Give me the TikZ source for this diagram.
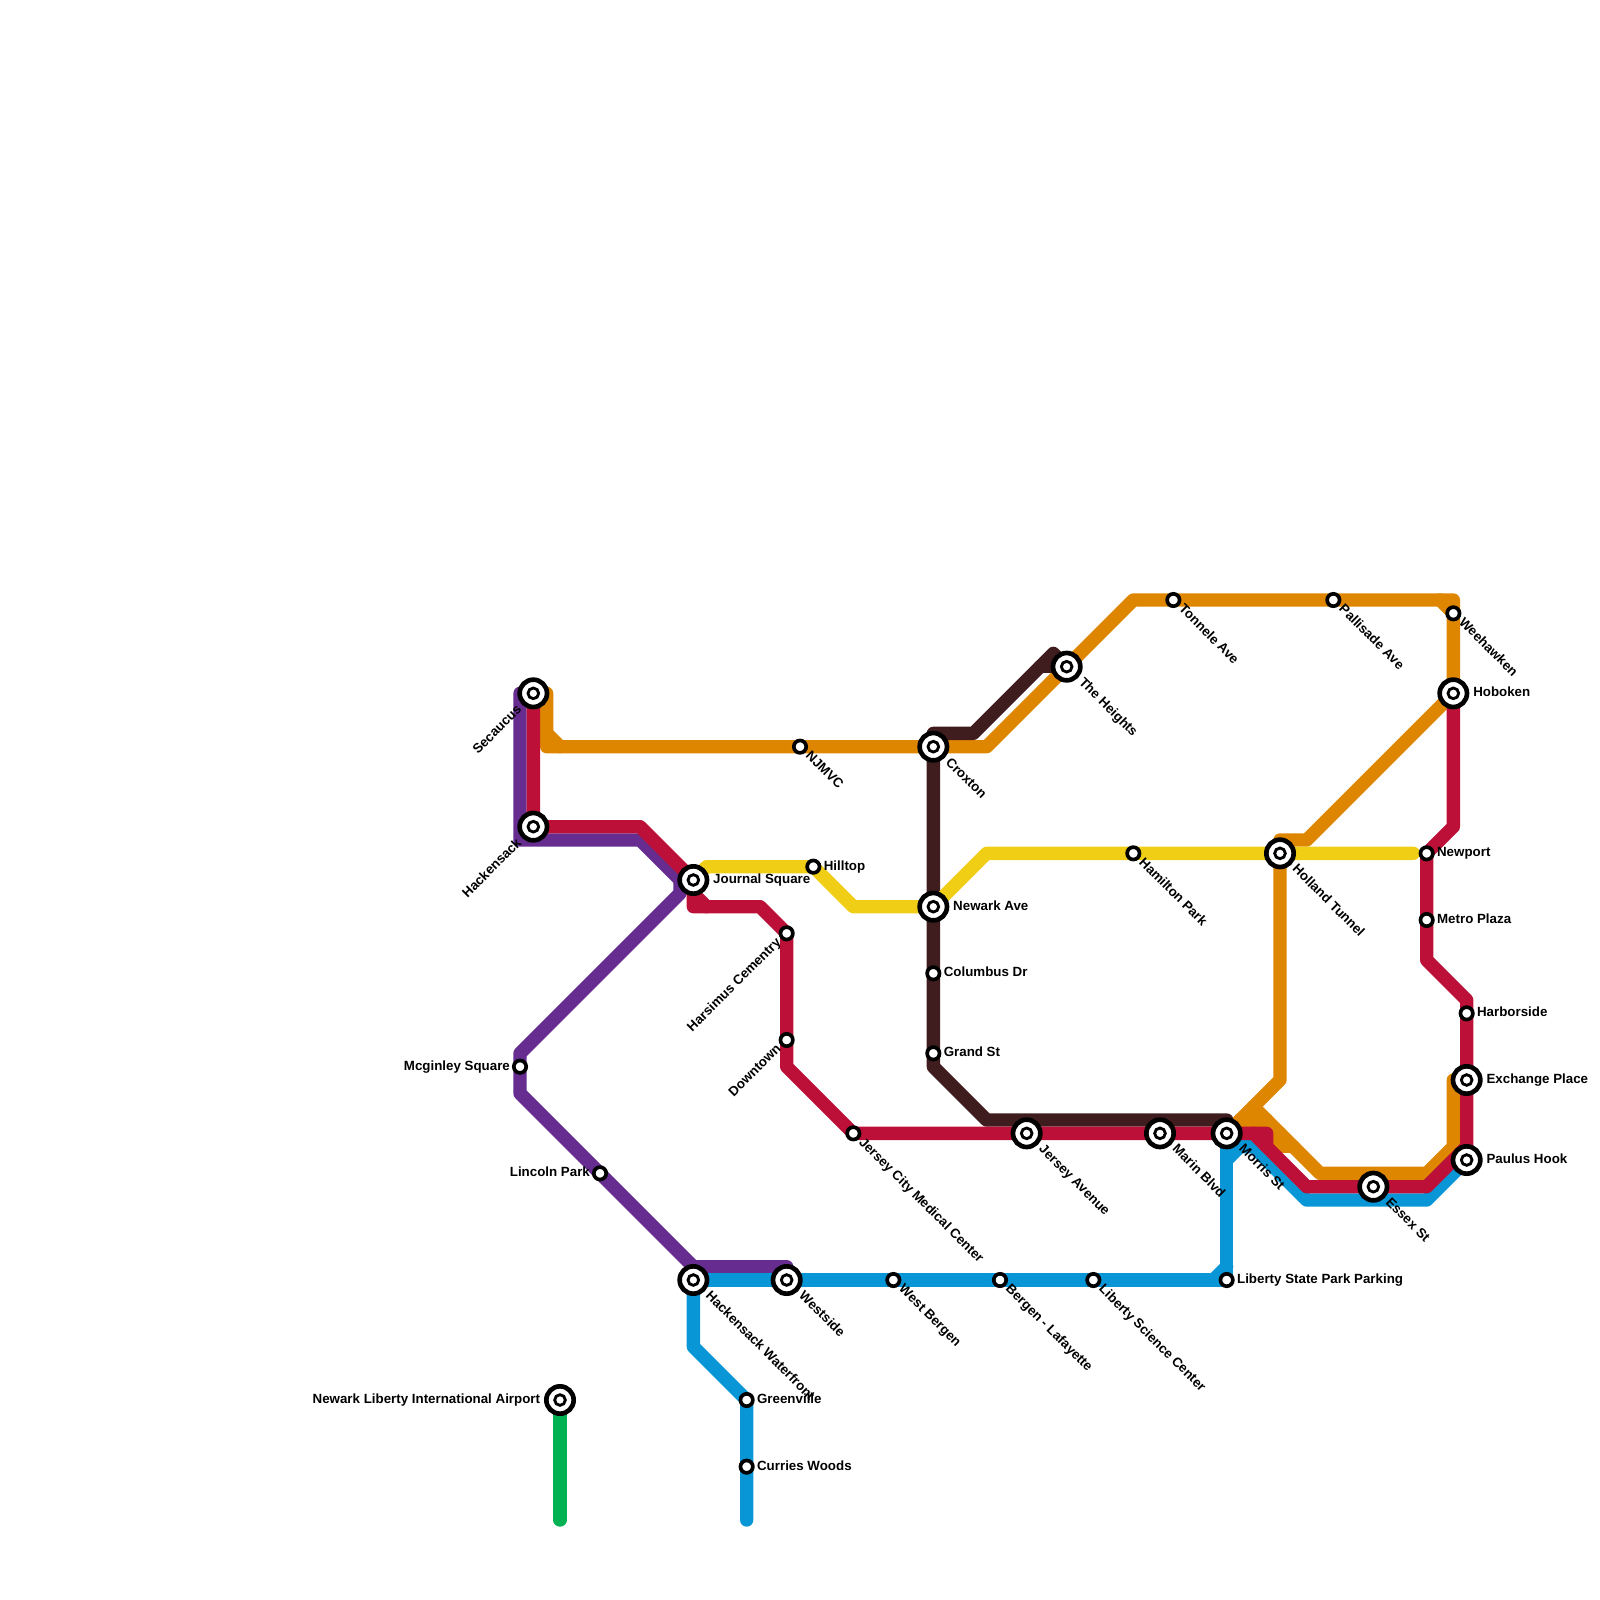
\documentclass[tikz,border=0pt]{standalone}
\usepackage{fontspec}
\setmainfont{Liberation Sans}
\usepackage{xcolor}
\usepackage{tikz}
\usetikzlibrary{positioning, backgrounds}

\definecolor{linered}{HTML}{BD1038}
\definecolor{lineorange}{HTML}{DF8600}
\definecolor{linepurple}{HTML}{662C90}
\definecolor{lineyellow}{HTML}{F0CE15}
\definecolor{lineblue}{HTML}{0896D7}
\definecolor{linegreen}{HTML}{00B251}
\definecolor{linebrown}{HTML}{3F1D1F}

\begin{document}
\begin{tikzpicture}[
    x=0.4cm, y=-0.4cm,
    hub/.style={draw=black, circle, line width=0.14cm, fill=white, minimum size=0.82cm,
                inner sep=0pt, outer sep=0pt,
                path picture={\draw[line width=0.085cm] (path picture bounding box.center) circle (0.16cm);}},
    stn/.style={draw=black, circle, line width=0.11cm, fill=white, minimum size=0.372cm,
                inner sep=0pt, outer sep=0pt},
    lbl/.style={font=\fontsize{11.38}{13}\selectfont\bfseries, color=black, inner sep=0pt,
                text height=0.285cm, text depth=0.084cm},
    lbldown/.style={lbl, rotate=-45, anchor=west},
    lblup/.style={lbl, rotate=45, anchor=east},
    rail/.style={line width=0.4cm, line cap=round, line join=round},
    redrail/.style={rail, color=linered},
    orangerail/.style={rail, color=lineorange},
    purplerail/.style={rail, color=linepurple},
    yellowrail/.style={rail, color=lineyellow},
    bluerail/.style={rail, color=lineblue},
    greenrail/.style={rail, color=linegreen},
    brownrail/.style={rail, color=linebrown}
]
\useasboundingbox (0,0) rectangle (120,120);

% =========================================================
% INTERCHANGES
% =========================================================
\node[hub] (secaucus) at (40,52) {};
\node[hub] (hackensack) at (40,62) {};
\node[hub] (journal) at (52,66) {};
\node[hub] (croxton) at (70,56) {};
\node[hub] (newark) at (70,68) {};
\node[hub] (heights) at (80,50) {};
\node[hub] (jerseyave) at (77,85) {};
\node[hub] (marin) at (87,85) {};
\node[hub] (morris) at (92,85) {};
\node[hub] (holland) at (96,64) {};
\node[hub] (hoboken) at (109,52) {};
\node[hub] (exchange) at (110,81) {};
\node[hub] (paulus) at (110,87) {};
\node[hub] (essex) at (103,89) {};
\node[hub] (waterfront) at (52,96) {};
\node[hub] (westside) at (59,96) {};
\node[hub] (airport) at (42,105) {};

% =========================================================
% STATIONS
% =========================================================
\node[stn] (njmvc) at (60,56) {};
\node[stn] (hilltop) at (61,65) {};
\node[stn] (harsimus) at (59,70) {};
\node[stn] (downtown) at (59,78) {};
\node[stn] (columbus) at (70,73) {};
\node[stn] (grand) at (70,79) {};
\node[stn] (medical) at (64,85) {};
\node[stn] (tonnele) at (88,45) {};
\node[stn] (palisade) at (100,45) {};
\node[stn] (weehawken) at (109,46) {};
\node[stn] (hamilton) at (85,64) {};
\node[stn] (newport) at (107,64) {};
\node[stn] (metro) at (107,69) {};
\node[stn] (harborside) at (110,76) {};
\node[stn] (mcginley) at (39,80) {};
\node[stn] (lincoln) at (45,88) {};
\node[stn] (westbergen) at (67,96) {};
\node[stn] (lafayette) at (75,96) {};
\node[stn] (science) at (82,96) {};
\node[stn] (parking) at (92,96) {};
\node[stn] (greenville) at (56,105) {};
\node[stn] (curries) at (56,110) {};

% line ends
\coordinate (bluetail) at (56,114);
\coordinate (greentail) at (42,114);

% =========================================================
% LINES
% =========================================================
\begin{pgfonlayer}{background}
% purple
\draw[purplerail] (secaucus.center) -- ++(-1,0) -- ++(0,11) -- ++(9,0) -- ++(3,3) -- ++(0,1)
    -- ++(-12,12) -- (mcginley.center) -- ++(0,2) -- (lincoln.center) -- ++(7,7) -- ++(7,0)
    -- (westside.center);
\draw[purplerail] (journal.center) -- ++(-1,0);

% orange
\draw[orangerail] (secaucus.center) -- ++(1,0) -- ++(0,4) -- (njmvc.center) -- (croxton.center)
    -- ++(4,0) -- (heights.center) -- ++(5,-5) -- (tonnele.center) -- (palisade.center)
    -- ++(9,0) -- (weehawken.center) -- (hoboken.center) -- ++(-11,11) -- ++(-2,0)
    -- (holland.center) -- ++(0,17) -- (morris.center);
\draw[orangerail] ([shift={(1,3)}]secaucus.center) -- ++(1,1);
\draw[orangerail] (weehawken.center) -- ++(-1,-1);
\draw[orangerail] ([shift={(2,-2)}]morris.center) -- ++(5,5) -- ++(8,0) -- ++(2,-2) -- ++(0,-5)
    -- (exchange.center);
\draw[orangerail] ([shift={(1,-1)}]morris.center) -- ++(2,0);
\draw[orangerail] ([shift={(3,0)}]morris.center) -- ++(1,0);
\draw[orangerail] ([shift={(3,1)}]morris.center) -- ++(2,0);

% brown
\draw[brownrail] (heights.center) -- ++(-2,0);
\draw[brownrail] (heights.center) -- ++(-1,-1) -- ++(-6,6) -- ++(-3,0) -- (croxton.center)
    -- (newark.center) -- (columbus.center) -- (grand.center) -- ++(0,1) -- ++(4,4)
    -- ++(18,0) -- (morris.center);

% blue
\draw[bluerail] (waterfront.center) -- (westside.center) -- (westbergen.center) -- (lafayette.center)
    -- (science.center) -- (parking.center) -- (morris.center);
\draw[bluerail] (parking.center) ++(-1,0) -- ++(1,-1);
\draw[bluerail] ([shift={(0,2)}]morris.center) -- ++(1,-1) -- ++(1,0) -- ++(4,4) -- ++(9,0)
    -- (paulus.center);
\draw[bluerail] (waterfront.center) -- ++(0,5) -- (greenville.center) -- (curries.center) -- (bluetail);

% yellow
\draw[yellowrail] (journal.center) -- ++(1,-1) -- (hilltop.center) -- ++(3,3) -- (newark.center)
    -- ++(4,-4) -- (hamilton.center) -- (holland.center) -- ++(10,0);

% green
\draw[greenrail] (airport.center) -- (greentail);

% red
\draw[redrail] (secaucus.center) -- (hackensack.center) -- ++(8,0) -- (journal.center) -- ++(0,2)
    -- ++(5,0) -- (harsimus.center) -- (downtown.center) -- ++(0,2) -- (medical.center)
    -- (jerseyave.center) -- (marin.center) -- (morris.center) -- ++(3,0) -- ++(0,1);
\draw[redrail] ([shift={(0,1)}]journal.center) -- ++(1,1);
\draw[redrail] ([shift={(2,0)}]morris.center) -- ++(4,4) -- (essex.center) -- ++(4,0) -- ++(3,-3)
    -- (exchange.center) -- (harborside.center) -- ++(0,-1) -- ++(-3,-3) -- (metro.center)
    -- (newport.center) -- ++(2,-2) -- (hoboken.center);
\draw[redrail] (paulus.center) -- ++(0,-1);
\end{pgfonlayer}

% =========================================================
% LABELS
% =========================================================
% to the right
\node[lbl, right=1.8mm of journal] (ljournal) {Journal Square};
\node[lbl, right=1.8mm of newark] (lnewark) {Newark Ave};
\node[lbl, right=1.8mm of hoboken] (lhoboken) {Hoboken};
\node[lbl, right=1.8mm of exchange] (lexchange) {Exchange Place};
\node[lbl, right=1.8mm of paulus] (lpaulus) {Paulus Hook};
\node[lbl, right=1.2mm of hilltop] (lhilltop) {Hilltop};
\node[lbl, right=1.2mm of columbus] (lcolumbus) {Columbus Dr};
\node[lbl, right=1.2mm of grand] (lgrand) {Grand St};
\node[lbl, right=1.2mm of newport] (lnewport) {Newport};
\node[lbl, right=1.2mm of metro] (lmetro) {Metro Plaza};
\node[lbl, right=1.2mm of harborside] (lharborside) {Harborside};
\node[lbl, right=1.2mm of parking] (lparking) {Liberty State Park Parking};
\node[lbl, right=1.2mm of greenville] (lgreenville) {Greenville};
\node[lbl, right=1.2mm of curries] (lcurries) {Curries Woods};

% to the left
\node[lbl, left=1.8mm of airport] (lairport) {Newark Liberty International Airport};
\node[lbl, left=1.1mm of mcginley] (lmcginley) {Mcginley Square};
\node[lbl, left=1.1mm of lincoln] (llincoln) {Lincoln Park};

% rising to the left
\node[lblup] (lsecaucus) at ([shift={(-1,1.1)}]secaucus.center) {Secaucus};
\node[lblup] (lhackensack) at ([shift={(-1,1.1)}]hackensack.center) {Hackensack};
\node[lblup] (lharsimus) at ([shift={(-0.55,0.55)}]harsimus.center) {Harsimus Cementry};
\node[lblup] (ldowntown) at ([shift={(-0.55,0.55)}]downtown.center) {Downtown};

% falling to the right
\node[lbldown] (lcroxton) at ([shift={(1.05,1.05)}]croxton.center) {Croxton};
\node[lbldown] (lheights) at ([shift={(1.05,1.05)}]heights.center) {The Heights};
\node[lbldown] (ljerseyave) at ([shift={(1.05,1.05)}]jerseyave.center) {Jersey Avenue};
\node[lbldown] (lmarin) at ([shift={(1.05,1.05)}]marin.center) {Marin Blvd};
\node[lbldown] (lmorris) at ([shift={(1.05,1.05)}]morris.center) {Morris St};
\node[lbldown] (lholland) at ([shift={(1.05,1.05)}]holland.center) {Holland Tunnel};
\node[lbldown] (lessex) at ([shift={(1.05,1.05)}]essex.center) {Essex St};
\node[lbldown] (lwaterfront) at ([shift={(1.05,1.05)}]waterfront.center) {Hackensack Waterfront};
\node[lbldown] (lwestside) at ([shift={(1.05,1.05)}]westside.center) {Westside};
\node[lbldown] (lnjmvc) at ([shift={(0.55,0.55)}]njmvc.center) {NJMVC};
\node[lbldown] (lmedical) at ([shift={(0.55,0.55)}]medical.center) {Jersey City Medical Center};
\node[lbldown] (ltonnele) at ([shift={(0.55,0.55)}]tonnele.center) {Tonnele Ave};
\node[lbldown] (lpalisade) at ([shift={(0.55,0.55)}]palisade.center) {Pallisade Ave};
\node[lbldown] (lweehawken) at ([shift={(0.55,0.55)}]weehawken.center) {Weehawken};
\node[lbldown] (lhamilton) at ([shift={(0.55,0.55)}]hamilton.center) {Hamilton Park};
\node[lbldown] (lwestbergen) at ([shift={(0.55,0.55)}]westbergen.center) {West Bergen};
\node[lbldown] (llafayette) at ([shift={(0.55,0.55)}]lafayette.center) {Bergen - Lafayette};
\node[lbldown] (lscience) at ([shift={(0.55,0.55)}]science.center) {Liberty Science Center};

\end{tikzpicture}
\end{document}
